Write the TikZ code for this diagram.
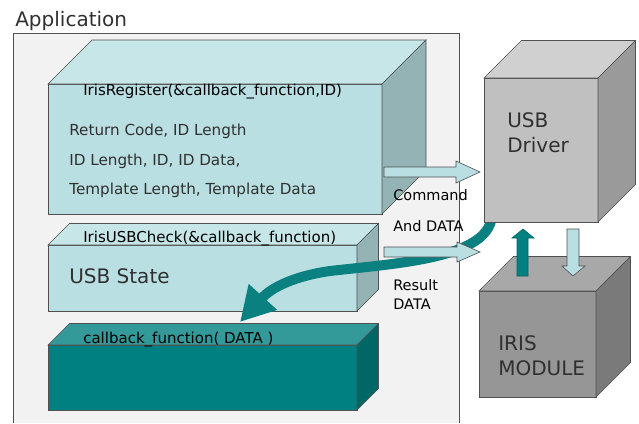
\documentclass[tikz,border=0pt]{standalone}
\usepackage{fontspec}
\setmainfont{DejaVu Sans}
\usetikzlibrary{arrows.meta}
\definecolor{appbg}{HTML}{F2F2F2}
\definecolor{edge}{HTML}{505050}
\definecolor{cyfront}{HTML}{BADFE2}
\definecolor{cytop}{HTML}{C6E6E8}
\definecolor{cyside}{HTML}{93B3B5}
\definecolor{tlfront}{HTML}{008080}
\definecolor{tltop}{HTML}{339999}
\definecolor{tlside}{HTML}{006666}
\definecolor{drfront}{HTML}{C0C0C0}
\definecolor{drtop}{HTML}{D0D0D0}
\definecolor{drside}{HTML}{9A9A9A}
\definecolor{irfront}{HTML}{969696}
\definecolor{irtop}{HTML}{A8A8A8}
\definecolor{irside}{HTML}{7A7A7A}
\definecolor{band}{HTML}{0A8080}
\definecolor{txt}{HTML}{303030}
% #1 x1, #2 y1, #3 x2, #4 y2, #5 depth, #6 front, #7 top, #8 side
\newcommand\mybox[8]{%
  \filldraw[fill=#6] (#1,#2) rectangle (#3,#4);
  \filldraw[fill=#7] (#1,#2) -- (#1+#5,#2-#5) -- (#3+#5,#2-#5) -- (#3,#2) -- cycle;
  \filldraw[fill=#8] (#3,#2) -- (#3+#5,#2-#5) -- (#3+#5,#4-#5) -- (#3,#4) -- cycle;
}
\tikzset{
  lbl/.style={anchor=base west, inner sep=0pt, text=txt},
  big/.style={lbl, font=\fontsize{20}{22}\selectfont},
  small/.style={lbl, text=black, font=\fontsize{15}{17}\selectfont},
  side/.style={lbl, text=black, font=\fontsize{14.5}{17}\selectfont},
  body/.style={lbl, text=txt, font=\fontsize{15.2}{17}\selectfont},
  blockarrow/.style={draw=edge, line width=0.6pt, line join=miter},
}
\begin{document}
\begin{tikzpicture}[x=1pt,y=-1pt, draw=edge, line width=0.6pt]
\useasboundingbox (0,0) rectangle (639,423);
% application frame
\fill[white] (0,0) rectangle (639,423);
\fill[appbg] (13,33) rectangle (459,423);
\draw (13,423) -- (13,33) -- (459,33) -- (459,423);
\node[big] (app) at (15,27) {Application};
% boxes
\mybox{48}{84}{382}{214}{44}{cyfront}{cytop}{cyside}
\mybox{48}{245}{357}{311}{21.5}{cyfront}{cytop}{cyside}
\mybox{48}{345}{357}{410}{21.5}{tlfront}{tltop}{tlside}
% texts in boxes
\node[small] (reg) at (83,95) {IrisRegister(\&callback\_function,ID)};
\node[body] (r1) at (69,135) {Return Code, ID Length};
\node[body] (r2) at (69,165) {ID Length, ID, ID Data,};
\node[body] (r3) at (69,194) {Template Length, Template Data};
\node[small] (chk) at (83,242) {IrisUSBCheck(\&callback\_function)};
\node[big] (state) at (69,283) {USB State};
\node[small] (cb) at (83,343) {callback\_function( DATA )};
% curved teal arrow
\draw[band, line width=10pt, -{Triangle[length=34pt,width=36pt]}]
  (492,212) .. controls (494,258) and (400,263) .. (330,271)
  .. controls (295,276) and (272,287) .. (240,322);
% block arrows to driver
\filldraw[fill=cyfront, blockarrow] (384,167) -- (456,167) -- (456,161) -- (480,172) -- (456,183) -- (456,177) -- (384,177) -- cycle;
\filldraw[fill=cyfront, blockarrow] (384,247) -- (457,247) -- (457,242) -- (480,252) -- (457,262) -- (457,257) -- (384,257) -- cycle;
\node[side] (cmd) at (393,200) {Command};
\node[side] (and) at (393,231) {And DATA};
\node[side] (res) at (393,290) {Result};
\node[side] (dat) at (393,309) {DATA};
% driver and module
\mybox{484}{78}{598}{222}{37.5}{drfront}{drtop}{drside}
\mybox{479}{291}{596}{397}{34.5}{irfront}{irtop}{irside}
\node[big] (usb) at (507,127) {USB};
\node[big] (drv) at (507,152) {Driver};
\node[big] (iris) at (498,350) {IRIS};
\node[big] (mod) at (498,375) {MODULE};
% vertical arrows
\filldraw[fill=tlfront, draw=tlside, line join=miter] (517,276) -- (517,238) -- (512,238) -- (523,229) -- (534,238) -- (528,238) -- (528,276) -- cycle;
\filldraw[fill=cyfront, blockarrow] (567,229) -- (579,229) -- (579,266) -- (585,266) -- (573,276) -- (562,266) -- (567,266) -- cycle;
\end{tikzpicture}
\end{document}
